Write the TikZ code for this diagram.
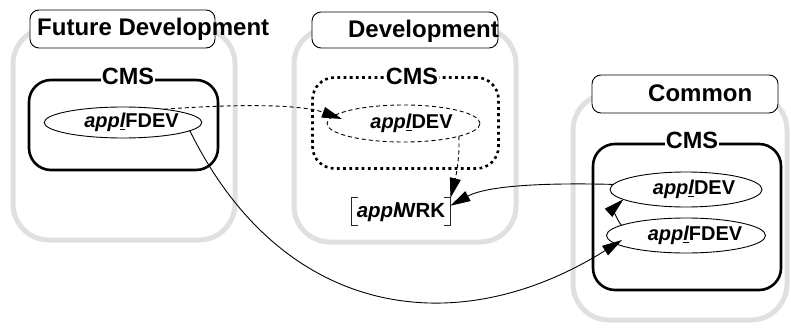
\documentclass[tikz,border=0pt]{standalone}
\usepackage{fontspec}
\setmainfont{Liberation Sans}
\usetikzlibrary{shapes.geometric,arrows.meta}
\definecolor{lightgr}{HTML}{E0E0E0}
\begin{document}
\begin{tikzpicture}[x=1pt,y=-1pt,
  graybox/.style={draw=lightgr, line width=5pt, rounded corners=36pt, inner sep=0pt, outer sep=0pt},
  titlebox/.style={draw=black, line width=0.9pt, fill=white, rounded corners=9pt, inner sep=0pt, outer sep=0pt},
  titletext/.style={inner sep=0pt, font=\fontsize{24}{24}\selectfont\bfseries},
  cmsbox/.style={draw=black, line width=2.6pt, rounded corners=22pt, inner sep=0pt, outer sep=0pt},
  cmsdotted/.style={cmsbox, dash pattern=on 2.8pt off 3.4pt},
  cmslabel/.style={fill=white, inner xsep=1pt, inner ysep=1pt, font=\fontsize{23.5}{23.5}\selectfont\bfseries},
  ell/.style={ellipse, draw=black, line width=0.9pt, inner sep=0pt, outer sep=0pt, font=\fontsize{20}{20}\selectfont\bfseries},
  elldash/.style={ell, dash pattern=on 4pt off 3pt},
  conn/.style={draw=black, line width=0.9pt, -{Triangle[length=20pt,width=11pt]}},
  conndash/.style={conn, dash pattern=on 4pt off 3pt},
  wrktext/.style={inner xsep=5pt, inner ysep=4pt, font=\fontsize{20.5}{20.5}\selectfont\bfseries},
  bracketline/.style={draw=black!85, line width=0.9pt}
]
\useasboundingbox (0,0) rectangle (791,331);

% large gray areas
\node[graybox, minimum width=222pt, minimum height=212pt] (g1) at (124,134) {};
\node[graybox, minimum width=222pt, minimum height=214pt] (g2) at (405,135) {};
\node[graybox, minimum width=214pt, minimum height=226pt] (g3) at (680,207) {};

% title boxes
\node[titlebox, minimum width=185pt, minimum height=38pt] (tb1) at (122.5,29) {};
\node[titlebox, minimum width=186pt, minimum height=36pt] (tb2) at (405,30) {};
\node[titlebox, minimum width=186pt, minimum height=38pt] (tb3) at (685,94) {};
\node[titletext, anchor=base west] (tt1) at (37,36) {Future Development};
\node[titletext, anchor=base east] (tt2) at (499,38) {Development};
\node[titletext, anchor=base west] (tt3) at (648,102) {Common};

% CMS boxes
\node[cmsbox, minimum width=189pt, minimum height=90pt] (c1) at (123.5,125) {};
\node[cmsdotted, minimum width=186pt, minimum height=91pt] (c2) at (405.5,123) {};
\node[cmsbox, minimum width=188pt, minimum height=146pt] (c3) at (687,217) {};
\node[cmslabel] (l1) at (128,76) {CMS};
\node[cmslabel] (l2) at (412,76) {CMS};
\node[cmslabel] (l3) at (692,140) {CMS};

% ellipses
\node[ell, minimum width=150pt, minimum height=31pt] (e1) at (123,122.5) {\hspace*{17pt}\textit{app\underline{l}}FDEV};
\node[elldash, minimum width=153pt, minimum height=37pt] (e2) at (403.5,123.5) {\hspace*{16pt}\textit{app\underline{l}}DEV};
\node[ell, minimum width=152pt, minimum height=35pt] (e3) at (686,189.5) {\hspace*{16pt}\textit{app\underline{l}}DEV};
\node[ell, minimum width=152pt, minimum height=35pt] (e4) at (686,235.5) {\hspace*{18pt}\textit{app\underline{l}}FDEV};

% WRK with brackets
\node[wrktext, anchor=base] (wrk) at (401,217) {\textit{appl}\kern-3pt WRK};
\draw[bracketline] ([xshift=6pt]wrk.north west) -- (wrk.north west) -- (wrk.south west) -- ([xshift=6pt]wrk.south west);
\draw[bracketline] ([xshift=-6pt]wrk.north east) -- (wrk.north east) -- (wrk.south east) -- ([xshift=-6pt]wrk.south east);

% connector end points
\coordinate (t1) at (342,119);
\coordinate (t5) at (622,240);

% connectors
\draw[conndash] (e1.18) .. controls (235,104) and (300,104) .. (t1);
\draw[conndash] (e2.-13) .. controls (460,160) and (455,180) .. (wrk.north east);
\draw[conn] (e3.176) .. controls (560,183) and (490,184) .. ([yshift=6pt]wrk.east);
\draw[conn] (e4.171) .. controls (615,218) and (615,207) .. (e3.189);
\draw[conn] (e1.-7) .. controls (282,318) and (456,344) .. (t5);
\end{tikzpicture}
\end{document}
